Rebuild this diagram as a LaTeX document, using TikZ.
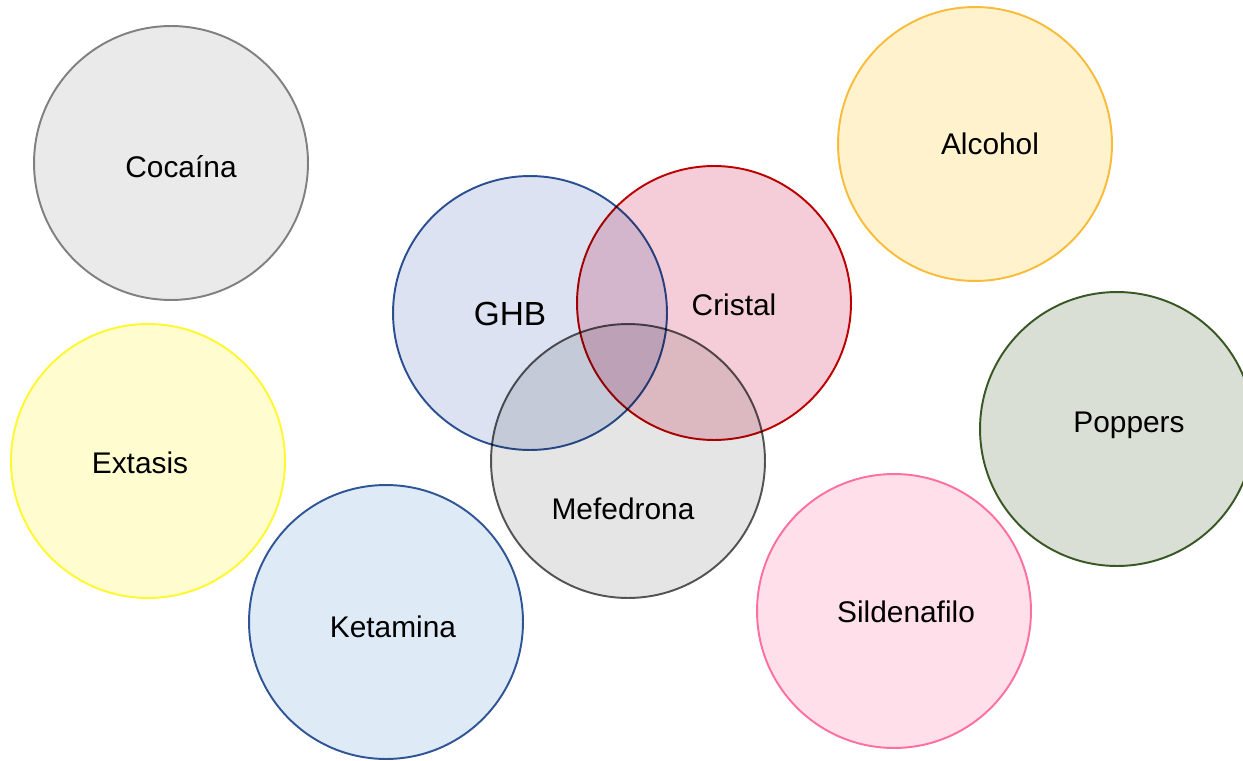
\documentclass[tikz,border=0pt]{standalone}
\usepackage{fontspec}
\setmainfont{Liberation Sans}
\definecolor{cocaFill}{HTML}{EAEAEA}
\definecolor{cocaLine}{HTML}{808080}
\definecolor{alcFill}{HTML}{FFF2CC}
\definecolor{alcLine}{HTML}{F9BC3A}
\definecolor{ghbFill}{HTML}{DCE2F1}
\definecolor{ghbLine}{HTML}{2F5597}
\definecolor{cristFill}{HTML}{F5CDD8}
\definecolor{cristLine}{HTML}{C00000}
\definecolor{mefFill}{HTML}{E5E5E5}
\definecolor{mefLine}{HTML}{595959}
\definecolor{extFill}{HTML}{FFFDCF}
\definecolor{extLine}{HTML}{FFF830}
\definecolor{popFill}{HTML}{D9DFD5}
\definecolor{popLine}{HTML}{385723}
\definecolor{ketFill}{HTML}{DEEBF7}
\definecolor{ketLine}{HTML}{2F5597}
\definecolor{silFill}{HTML}{FFDFEA}
\definecolor{silLine}{HTML}{FF6F9F}
\tikzset{
  drug/.style={line width=1.1pt},
  overlap/.style={drug,blend mode=multiply},
  druglabel/.style={font=\fontsize{17}{20}\selectfont,inner sep=0pt}
}
\begin{document}
\begin{tikzpicture}[x=0.02cm,y=-0.02cm]
	\def \r{2.74cm}
	\useasboundingbox[fill=white] (0,0) rectangle (1243,760);
	% outer circles
	\draw[drug,fill=cocaFill,draw=cocaLine] (171,163) circle[radius=\r];
	\draw[drug,fill=alcFill,draw=alcLine] (975,144) circle[radius=\r];
	\draw[drug,fill=extFill,draw=extLine] (148,461) circle[radius=\r];
	\draw[drug,fill=popFill,draw=popLine] (1117,429) circle[radius=\r];
	\draw[drug,fill=ketFill,draw=ketLine] (386,622) circle[radius=\r];
	\draw[drug,fill=silFill,draw=silLine] (894,611) circle[radius=\r];
	% the three that overlap
	\draw[overlap,fill=ghbFill,draw=ghbLine] (530,313) circle[radius=\r];
	\draw[overlap,fill=cristFill,draw=cristLine] (714,303) circle[radius=\r];
	\draw[overlap,fill=mefFill,draw=mefLine] (628,461) circle[radius=\r];
	% labels
	\node[druglabel] (coca) at (181,167) {Cocaína};
	\node[druglabel] (alc) at (990,144) {Alcohol};
	\node[druglabel,font=\fontsize{19}{22}\selectfont] (ghb) at (510,314) {GHB};
	\node[druglabel] (crist) at (734,305) {Cristal};
	\node[druglabel] (mef) at (623,509) {Mefedrona};
	\node[druglabel] (ext) at (140,463) {Extasis};
	\node[druglabel] (pop) at (1129,425) {Poppers};
	\node[druglabel] (ket) at (393,627) {Ketamina};
	\node[druglabel] (sil) at (906,612) {Sildenafilo};
\end{tikzpicture}
\end{document}
